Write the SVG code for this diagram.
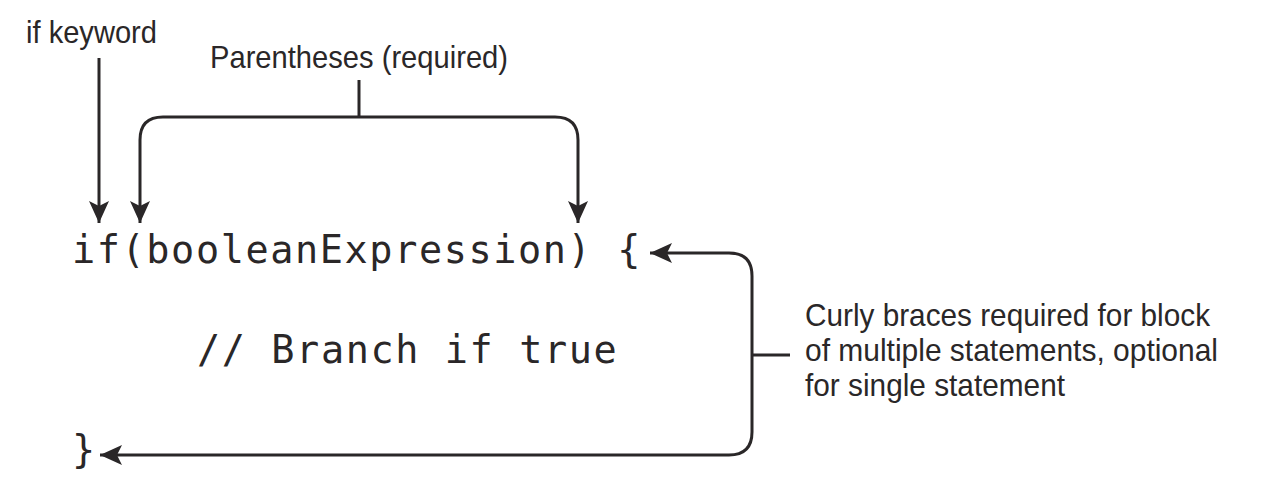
<svg xmlns="http://www.w3.org/2000/svg" width="1264" height="500" viewBox="0 0 1264 500">
<style>
.lbl{font-family:"Liberation Sans Narrow","Liberation Sans",Arial,sans-serif;font-stretch:condensed;font-size:32px;fill:#2a2728}
.code{font-family:"DejaVu Sans Mono","Liberation Mono",monospace;font-size:38.5px;letter-spacing:1.6px;fill:#2a2728}
.ln{fill:none;stroke:#2a2728;stroke-width:3}
</style>
<defs>
<marker id="ah" markerUnits="userSpaceOnUse" markerWidth="24" markerHeight="22" refX="22" refY="11" orient="auto">
<path d="M0,1 L22,11 L0,21 L5,11 Z" fill="#2a2728"/>
</marker>
</defs>
<rect width="1264" height="500" fill="#fff"/>
<g id="labels">
<g id="if-keyword"><text class="lbl" x="26" y="43" textLength="131" lengthAdjust="spacingAndGlyphs">if keyword</text></g>
<g id="parentheses"><text class="lbl" x="210" y="68" textLength="298" lengthAdjust="spacingAndGlyphs">Parentheses (required)</text></g>
<g id="curly">
<text class="lbl" x="805" y="326" textLength="405" lengthAdjust="spacingAndGlyphs">Curly braces required for block</text>
<text class="lbl" x="805" y="361" textLength="413" lengthAdjust="spacingAndGlyphs">of multiple statements, optional</text>
<text class="lbl" x="805" y="396" textLength="260" lengthAdjust="spacingAndGlyphs">for single statement</text>
</g>
</g>
<g id="code">
<g id="line1"><text class="code" x="72" y="263">if(booleanExpression) {</text></g>
<g id="line2"><text class="code" x="197" y="363">// Branch if true</text></g>
<g id="line3"><text class="code" x="72" y="463">}</text></g>
</g>
<g id="connectors">
<path class="ln" d="M99,58 V223" marker-end="url(#ah)"/>
<path class="ln" d="M359,80 V117"/>
<path class="ln" d="M359,117 H163 Q140,117 140,140 V223" marker-end="url(#ah)"/>
<path class="ln" d="M359,117 H555 Q578,117 578,140 V223" marker-end="url(#ah)"/>
<path class="ln" d="M752,355 H790"/>
<path class="ln" d="M752,355 V276 Q752,253 729,253 H650" marker-end="url(#ah)"/>
<path class="ln" d="M752,355 V432 Q752,455 729,455 H100" marker-end="url(#ah)"/>
</g>
</svg>
